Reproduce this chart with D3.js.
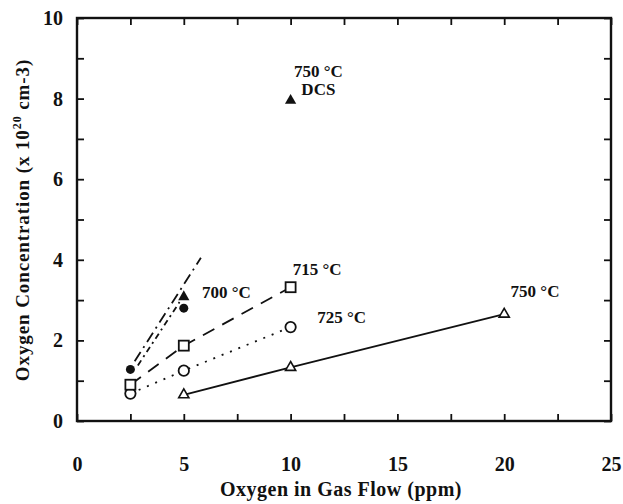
<!DOCTYPE html>
<html>
<head>
<meta charset="utf-8">
<script src="https://cdn.jsdelivr.net/npm/d3@7"></script>
<style>
  body { margin: 0; background: #fff; }
  text { font-family: "Liberation Serif", "DejaVu Serif", serif; fill: #111; }
</style>
</head>
<body>
<div id="chart"></div>
<script>
/* CONSTANTS AND GLOBALS */
const width = 623,
  height = 504,
  margin = { top: 18, bottom: 83, left: 77, right: 12 };

// data (x = ppm O2, y = 10^20 cm-3)
const flow750 = [5, 10, 20];
const conc750 = [0.65, 1.33, 2.65];
const flow725 = [2.5, 5, 10];
const conc725 = [0.68, 1.25, 2.33];
const flow715 = [2.5, 5, 10];
const conc715 = [0.9, 1.87, 3.32];
const flow700 = [2.5, 5];
const conc700 = [1.28, 2.8];
const flow700tri = [5];
const conc700tri = [3.08];
const flowDCS = [10];
const concDCS = [7.95];
// the two dash-dot fit lines drawn through the 700 °C points
const fit700a = [[2.7, 1.48], [5.8, 4.05]];
const fit700b = [[2.85, 1.38], [4.8, 2.95]];

const xTicks = [0, 5, 10, 15, 20, 25];
const yTicks = [0, 2, 4, 6, 8, 10];

const labels = [
  { text: "750 °C", x: 11.3, y: 8.54, anchor: "middle" },
  { text: "DCS", x: 11.3, y: 8.1, anchor: "middle" },
  { text: "700 °C", x: 5.85, y: 3.05, anchor: "start" },
  { text: "715 °C", x: 10.1, y: 3.62, anchor: "start" },
  { text: "725 °C", x: 11.25, y: 2.43, anchor: "start" },
  { text: "750 °C", x: 20.3, y: 3.08, anchor: "start" }
];

const zip = (xs, ys) => xs.map((x, i) => [x, ys[i]]);

const svg = d3.select("#chart").append("svg")
  .attr("width", width)
  .attr("height", height);

const x = d3.scaleLinear().domain([0, 25]).range([margin.left, width - margin.right]);
const y = d3.scaleLinear().domain([0, 10]).range([height - margin.bottom, margin.top]);

// + FRAME AND TICKS (inward on all four sides)
const minorX = d3.range(0, 25.01, 2.5);
const minorY = d3.range(0, 10.01, 1);

svg.append("g")
  .attr("transform", `translate(0,${y(0)})`)
  .call(d3.axisBottom(x).tickValues(minorX).tickSize(-7).tickFormat(""));
svg.append("g")
  .attr("transform", `translate(0,${y(10)})`)
  .call(d3.axisTop(x).tickValues(minorX).tickSize(-7).tickFormat(""));
svg.append("g")
  .attr("transform", `translate(${x(0)},0)`)
  .call(d3.axisLeft(y).tickValues(minorY).tickSize(-7).tickFormat(""));
svg.append("g")
  .attr("transform", `translate(${x(25)},0)`)
  .call(d3.axisRight(y).tickValues(minorY).tickSize(-7).tickFormat(""));

svg.selectAll(".domain").remove();
svg.selectAll(".tick line").attr("stroke", "#111").attr("stroke-width", 1.8);

svg.append("rect")
  .attr("x", x(0)).attr("y", y(10))
  .attr("width", x(25) - x(0)).attr("height", y(0) - y(10))
  .attr("fill", "none").attr("stroke", "#111").attr("stroke-width", 2.4);

// tick labels
const xLab = svg.append("g")
  .attr("transform", `translate(0,${y(0)})`)
  .call(d3.axisBottom(x).tickValues(xTicks).tickSize(0).tickPadding(36).tickFormat(d3.format("d")));
const yLab = svg.append("g")
  .attr("transform", `translate(${x(0)},0)`)
  .call(d3.axisLeft(y).tickValues(yTicks).tickSize(0).tickPadding(14).tickFormat(d3.format("d")));
[xLab, yLab].forEach(g => {
  g.select(".domain").remove();
  g.selectAll("text")
    .attr("font-family", "Liberation Serif, serif")
    .attr("font-size", 20)
    .attr("font-weight", "bold")
    .attr("fill", "#111");
});

// axis titles
svg.append("text")
  .attr("x", 341).attr("y", 496)
  .attr("text-anchor", "middle")
  .attr("font-size", 20).attr("font-weight", "bold")
  .attr("letter-spacing", 0.5)
  .text("Oxygen in Gas Flow (ppm)");

const yt = svg.append("text")
  .attr("transform", `translate(29,220) rotate(-90)`)
  .attr("text-anchor", "middle")
  .attr("font-size", 19).attr("font-weight", "bold")
  .attr("letter-spacing", 0.9);
yt.append("tspan").text("Oxygen Concentration (x 10");
yt.append("tspan").attr("font-size", 12).attr("dy", -8).text("20");
yt.append("tspan").attr("dy", 8).text(" cm-3)");

// + LINES
const line = d3.line().x(d => x(d[0])).y(d => y(d[1]));

const series = [
  { pts: zip(flow750, conc750), dash: null },
  { pts: zip(flow725, conc725), dash: "2,7" },
  { pts: zip(flow715, conc715), dash: "13,9" },
  { pts: fit700a, dash: "11,5,2,5" },
  { pts: fit700b, dash: "6,4,2,4" }
];

svg.append("g")
  .selectAll("path")
  .data(series)
  .join("path")
  .attr("d", d => line(d.pts))
  .attr("fill", "none")
  .attr("stroke", "#111")
  .attr("stroke-width", 1.8)
  .attr("stroke-dasharray", d => d.dash);

// + MARKERS
const marks = svg.append("g");
const tri = d3.symbol().type(d3.symbolTriangle).size(45);
const triSmall = d3.symbol().type(d3.symbolTriangle).size(55);

marks.selectAll(".tri750")
  .data(zip(flow750, conc750))
  .join("path")
  .attr("transform", d => `translate(${x(d[0])},${y(d[1])})`)
  .attr("d", tri)
  .attr("fill", "#fff").attr("stroke", "#111").attr("stroke-width", 1.6);

marks.selectAll(".circ725")
  .data(zip(flow725, conc725))
  .join("circle")
  .attr("cx", d => x(d[0])).attr("cy", d => y(d[1]))
  .attr("r", 5.2)
  .attr("fill", "#fff").attr("stroke", "#111").attr("stroke-width", 1.8);

marks.selectAll(".sq715")
  .data(zip(flow715, conc715))
  .join("rect")
  .attr("x", d => x(d[0]) - 5).attr("y", d => y(d[1]) - 5)
  .attr("width", 10).attr("height", 10)
  .attr("fill", "#fff").attr("stroke", "#111").attr("stroke-width", 1.8);

marks.selectAll(".circ700")
  .data(zip(flow700, conc700))
  .join("circle")
  .attr("cx", d => x(d[0])).attr("cy", d => y(d[1]))
  .attr("r", 4.5)
  .attr("fill", "#111");

marks.selectAll(".tri700")
  .data(zip(flow700tri, conc700tri).concat(zip(flowDCS, concDCS)))
  .join("path")
  .attr("transform", d => `translate(${x(d[0])},${y(d[1])})`)
  .attr("d", triSmall)
  .attr("fill", "#111");

// + ANNOTATIONS
svg.append("g")
  .selectAll("text")
  .data(labels)
  .join("text")
  .attr("x", d => x(d.x)).attr("y", d => y(d.y))
  .attr("text-anchor", d => d.anchor)
  .attr("font-size", 17)
  .attr("font-weight", 600)
  .text(d => d.text);
</script>
</body>
</html>
